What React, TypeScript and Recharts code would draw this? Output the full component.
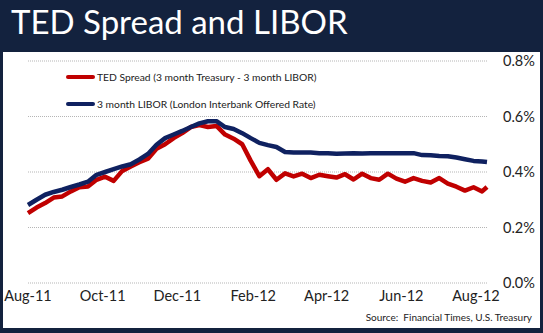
import { LineChart, Line, XAxis, YAxis, CartesianGrid } from 'recharts';

// weekly observations, Aug 2011 - Aug 2012
const dates = [
  '2011-08-01', '2011-08-08', '2011-08-15', '2011-08-22', '2011-08-29', '2011-09-05', '2011-09-12',
  '2011-09-19', '2011-09-26', '2011-10-03', '2011-10-10', '2011-10-17', '2011-10-24', '2011-10-31',
  '2011-11-07', '2011-11-14', '2011-11-21', '2011-11-28', '2011-12-05', '2011-12-12', '2011-12-19',
  '2011-12-26', '2012-01-02', '2012-01-09', '2012-01-16', '2012-01-23', '2012-01-30', '2012-02-06',
  '2012-02-13', '2012-02-20', '2012-02-27', '2012-03-05', '2012-03-12', '2012-03-19', '2012-03-26',
  '2012-04-02', '2012-04-09', '2012-04-16', '2012-04-23', '2012-04-30', '2012-05-07', '2012-05-14',
  '2012-05-21', '2012-05-28', '2012-06-04', '2012-06-11', '2012-06-18', '2012-06-25', '2012-07-02',
  '2012-07-09', '2012-07-16', '2012-07-23', '2012-07-30', '2012-08-06', '2012-08-10',
];

const libor = [
  0.281, 0.3, 0.318, 0.328, 0.336, 0.346, 0.355, 0.365, 0.39, 0.4, 0.41, 0.42, 0.428, 0.445,
  0.465, 0.498, 0.522, 0.535, 0.548, 0.562, 0.575, 0.583, 0.583, 0.562, 0.555, 0.54, 0.522, 0.505,
  0.497, 0.49, 0.472, 0.47, 0.47, 0.47, 0.468, 0.468, 0.466, 0.467, 0.468, 0.467, 0.468, 0.468,
  0.468, 0.468, 0.468, 0.468, 0.461, 0.46, 0.458, 0.457, 0.452, 0.446, 0.44, 0.438, 0.436,
];

const ted = [
  0.252, 0.272, 0.288, 0.308, 0.312, 0.33, 0.345, 0.348, 0.372, 0.383, 0.368, 0.404, 0.42, 0.435,
  0.448, 0.484, 0.5, 0.522, 0.54, 0.562, 0.569, 0.562, 0.566, 0.535, 0.52, 0.5, 0.44, 0.385,
  0.41, 0.372, 0.395, 0.384, 0.394, 0.378, 0.39, 0.385, 0.38, 0.392, 0.373, 0.394, 0.378, 0.372,
  0.394, 0.376, 0.365, 0.378, 0.368, 0.362, 0.378, 0.358, 0.347, 0.333, 0.345, 0.33, 0.346,
];

const tickDates = ['2011-08-01', '2011-10-01', '2011-12-01', '2012-02-01', '2012-04-01', '2012-06-01', '2012-08-01'];
const tickLabels = ['Aug-11', 'Oct-11', 'Dec-11', 'Feb-12', 'Apr-12', 'Jun-12', 'Aug-12'];
const yTicks = [0, 0.2, 0.4, 0.6, 0.8];

const DAY = 86400000;
const start = Date.parse(dates[0]);
const toDay = (d: string) => Math.round((Date.parse(d) - start) / DAY);

const data = dates.map((d, i) => ({ day: toDay(d), ted: ted[i], libor: libor[i] }));
const xTicks = tickDates.map(toDay);

const RED = '#c00000';
const BLUE = '#0f2160';
const FONT = 'Lato, sans-serif';

const legendRows = [
  { color: RED, text: 'TED Spread (3 month Treasury - 3 month LIBOR)' },
  { color: BLUE, text: '3 month LIBOR (London Interbank Offered Rate)' },
];

export default function App() {
  return (
    <div style={{ position: 'absolute', left: 0, top: 0, width: 543, height: 333, background: '#13223e', overflow: 'hidden' }}>
      <div style={{ position: 'absolute', left: 11, top: 1, color: '#fff', fontFamily: FONT, fontSize: 33, whiteSpace: 'nowrap' }}>
        TED Spread and LIBOR
      </div>
      <div style={{ position: 'absolute', left: 3, top: 52, width: 537, height: 276, background: '#fff' }}>
        <LineChart width={537} height={276} data={data} margin={{ top: 9, right: 0, left: 25, bottom: 0 }}>
          <CartesianGrid vertical={false} stroke="#b5b5b5" strokeDasharray="1 1" />
          <XAxis
            dataKey="day"
            type="number"
            domain={[0, 'dataMax']}
            ticks={xTicks}
            tickFormatter={(v: number) => tickLabels[xTicks.indexOf(v)]}
            axisLine={false}
            tickLine={false}
            tickSize={6}
            tickMargin={2}
            height={45}
            interval={0}
            tick={{ fill: '#222', fontSize: 14.5, fontFamily: FONT }}
          />
          <YAxis
            orientation="right"
            domain={[0, 0.8]}
            ticks={yTicks}
            tickFormatter={(v: number) => `${v.toFixed(1)}%`}
            axisLine={false}
            tickLine={false}
            tickSize={6}
            tickMargin={10}
            width={53}
            tick={{ fill: '#222', fontSize: 14.5, fontFamily: FONT }}
          />
          <Line dataKey="ted" stroke={RED} strokeWidth={4.5} dot={false} isAnimationActive={false} strokeLinejoin="round" />
          <Line dataKey="libor" stroke={BLUE} strokeWidth={4.5} dot={false} isAnimationActive={false} strokeLinejoin="round" />
        </LineChart>
        {/* legend sits inside the plot, top-left */}
        <div style={{ position: 'absolute', left: 63, top: 11, fontFamily: FONT, fontSize: 10.3, color: '#222' }}>
          {legendRows.map((r) => (
            <div key={r.text} style={{ display: 'flex', alignItems: 'center', height: 27, whiteSpace: 'nowrap' }}>
              <span style={{ display: 'inline-block', width: 29, height: 4, borderRadius: 2, background: r.color, marginRight: 2 }} />
              {r.text}
            </div>
          ))}
        </div>
      </div>
      <div style={{ position: 'absolute', right: 11, top: 311, fontFamily: FONT, fontSize: 10, color: '#222', whiteSpace: 'nowrap' }}>
        Source:&nbsp; Financial Times, U.S. Treasury
      </div>
    </div>
  );
}
